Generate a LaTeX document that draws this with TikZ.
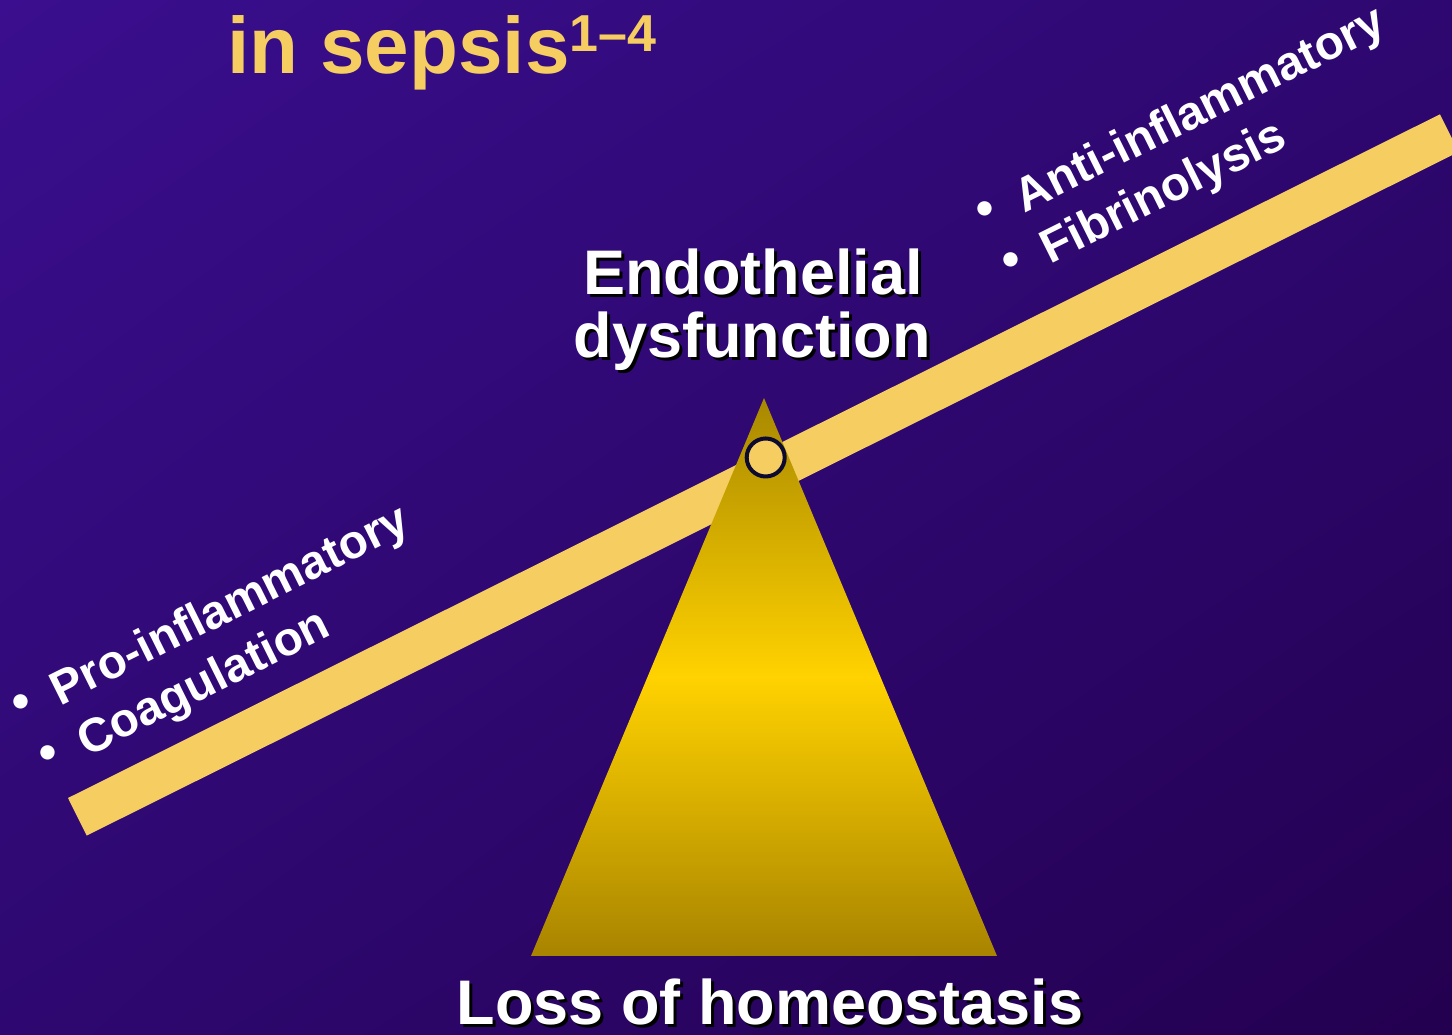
\documentclass[tikz,border=0pt]{standalone}
\usepackage{fontspec}
\setmainfont{Liberation Sans}
\usetikzlibrary{shadings}
\definecolor{beamc}{RGB}{246,205,96}
\definecolor{bgA}{RGB}{58,14,142}
\definecolor{bgB}{RGB}{36,0,80}
\definecolor{bgM}{RGB}{46,8,112}
\definecolor{ringc}{RGB}{12,10,48}
\definecolor{goldD}{RGB}{168,132,0}
\definecolor{goldT}{RGB}{168,136,0}
\definecolor{goldM}{RGB}{255,210,0}
\pgfdeclareverticalshading{triShade}{100bp}{color(0bp)=(goldD); color(25bp)=(goldD); color(50bp)=(goldM); color(75bp)=(goldT); color(100bp)=(goldT)}
\tikzset{
  bigtext/.style={font=\fontsize{63}{63}\selectfont\bfseries, inner sep=0pt, anchor=base},
  sidetext/.style={font=\fontsize{47.5}{47.5}\selectfont\bfseries, text=white, inner sep=0pt, anchor=base west, rotate=26.46},
  bullettext/.style={font=\fontsize{50}{50}\selectfont\bfseries, text=white, inner sep=0pt, rotate=26.46},
}
\begin{document}
\begin{tikzpicture}[x=1pt,y=1pt]
\useasboundingbox (0,0) rectangle (1452,1035);
\clip (0,0) rectangle (1452,1035);
% background
\shade[upper left=bgA, upper right=bgM, lower left=bgM, lower right=bgB] (0,0) rectangle (1452,1035);
% beam
\fill[beamc] (68,237) -- (86.7,199.4) -- (1458.7,883.1) -- (1440,920.7) -- cycle;
% fulcrum triangle
\shade[shading=triShade] (764,637) -- (997,79) -- (531,79) -- cycle;
% pivot
\node[circle, draw=ringc, line width=4pt, fill=beamc, minimum size=38pt, inner sep=0pt] (pivot) at (765.7,577.5) {};
% title
\node[anchor=base west, inner sep=0pt, text=beamc, font=\fontsize{80}{80}\selectfont\bfseries] (title) at (227,961)
  {in sepsis{\fontsize{52}{52}\selectfont\raisebox{22pt}{1–4}}};
% Endothelial dysfunction
\node[bigtext, text=black] (endoS) at (756,737) {Endothelial};
\node[bigtext, text=white] (endo) at (753,740) {Endothelial};
\node[bigtext, text=black] (dysS) at (755,674) {dysfunction};
\node[bigtext, text=white] (dys) at (752,677) {dysfunction};
% Loss of homeostasis
\node[bigtext, text=black] (lossS) at (773,7) {Loss of homeostasis};
\node[bigtext, text=white] (loss) at (770,10) {Loss of homeostasis};
% left labels
\node[bullettext] (bl1) at (23.3,329.3) {•};
\node[sidetext] (pro) at (60.4,328.8) {Pro-inflammatory};
\node[bullettext] (bl2) at (50,278.3) {•};
\node[sidetext] (coag) at (87.1,277.8) {Coagulation};
% right labels
\node[bullettext] (br1) at (987.3,822.3) {•};
\node[sidetext] (anti) at (1024.4,821.8) {Anti-inflammatory};
\node[bullettext] (br2) at (1013.3,770.7) {•};
\node[sidetext] (fib) at (1050.4,770.2) {Fibrinolysis};
\end{tikzpicture}
\end{document}
